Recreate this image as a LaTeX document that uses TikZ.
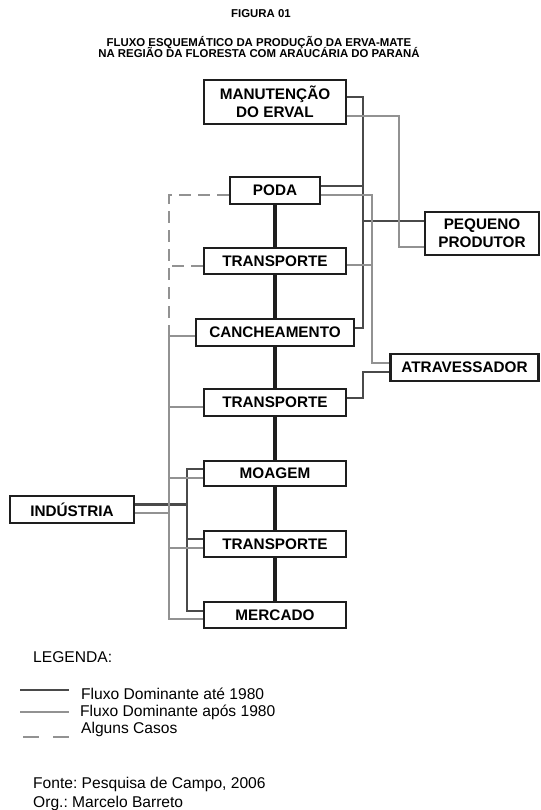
\documentclass[tikz,border=0pt]{standalone}
\usepackage{fontspec}
\setmainfont{Liberation Sans}
\frenchspacing
\definecolor{antigo}{HTML}{4A4A4A}
\definecolor{recente}{HTML}{929292}
\definecolor{eixo}{HTML}{1E1E1E}

\begin{document}
\begin{tikzpicture}[x=1pt, y=-1pt,
  etapa/.style={draw=eixo, line width=2.1pt, inner sep=0pt, align=center, minimum height=26pt,
    font=\fontsize{15.3}{18}\selectfont\bfseries},
  titulo/.style={inner sep=0pt, anchor=base, font=\fontsize{11.4}{12}\selectfont\bfseries},
  leg/.style={inner sep=0pt, anchor=base west, font=\fontsize{15.6}{18}\selectfont},
  cadeia/.style={eixo, line width=3.4pt},
  antes/.style={antigo, line width=2.8pt},
  apos/.style={recente, line width=2.8pt},
  alguns/.style={recente, line width=2.8pt, dash pattern=on 12pt off 7pt}]
\useasboundingbox (0,0) rectangle (540,810);
% titulo
\node[titulo] (fig) at (261,18) {FIGURA 01};
\node[titulo] (tit1) at (259,47) {FLUXO ESQUEMÁTICO DA PRODUÇÃO DA ERVA-MATE};
\node[titulo] (tit2) at (259,58) {NA REGIÃO DA FLORESTA COM ARAUCÁRIA DO PARANÁ};
% etapas da cadeia
\node[etapa, minimum width=142pt, minimum height=44pt] (manut) at (275,102) {MANUTENÇÃO\\DO ERVAL};
\node[etapa, minimum width=90pt, minimum height=27pt] (poda) at (275,190.5) {PODA};
\node[etapa, minimum width=142pt] (transp1) at (275,261) {TRANSPORTE};
\node[etapa, minimum width=158pt, minimum height=27pt] (canch) at (275,332.5) {CANCHEAMENTO};
\node[etapa, minimum width=142pt, minimum height=27pt] (transp2) at (275,402.5) {TRANSPORTE};
\node[etapa, minimum width=142pt, minimum height=25pt] (moagem) at (275,473.5) {MOAGEM};
\node[etapa, minimum width=142pt] (transp3) at (275,544) {TRANSPORTE};
\node[etapa, minimum width=142pt] (mercado) at (275,615) {MERCADO};
% agentes
\node[etapa, minimum width=114pt, minimum height=43pt] (produtor) at (482,233.5) {PEQUENO\\PRODUTOR};
\node[etapa, minimum width=148pt, minimum height=27pt] (atrav) at (464.5,367.5) {ATRAVESSADOR};
\node[etapa, minimum width=124pt, minimum height=27pt] (industria) at (72,509.5) {INDÚSTRIA};
% eixo central
\draw[cadeia] (poda) -- (transp1) -- (canch) -- (transp2) -- (moagem) -- (transp3) -- (mercado);
% fluxo dominante ate 1980
\coordinate (dkA) at (363,328);
\coordinate (dkB) at (363,398);
\coordinate (dkC) at (187,611);
\draw[antes] ([yshift=5pt]manut.east) -| (dkA) -- ([yshift=4.5pt]canch.east);
\draw[antes] ([yshift=4.5pt]poda.east) -| (dkA);
\draw[antes] ([yshift=12.5pt]produtor.west) -| (dkA);
\draw[antes] ([yshift=-4.5pt]atrav.west) -| (dkB) -- ([yshift=4.5pt]transp2.east);
\draw[antes] ([yshift=4.5pt]moagem.west) -| (dkC) -- ([yshift=4pt]mercado.west);
\draw[antes] ([yshift=5pt]transp3.west) -| (dkC);
\draw[antes] ([yshift=5pt]industria.east) -| (dkC);
% fluxo dominante apos 1980
\coordinate (ltA) at (399,247);
\coordinate (ltB) at (372,363);
\coordinate (ltC) at (169,619);
\draw[apos] ([yshift=-14pt]manut.east) -| (ltA) -- ([yshift=-13.5pt]produtor.west);
\draw[apos] ([yshift=-4.5pt]poda.east) -| (ltB) -- ([yshift=4.5pt]atrav.west);
\draw[apos] ([yshift=-4pt]transp1.east) -| (ltB);
\draw[apos] ([yshift=-3.5pt]canch.west) -| (ltC) -- ([yshift=-4pt]mercado.west);
\draw[apos] ([yshift=-4.5pt]transp2.west) -| (ltC);
\draw[apos] ([yshift=-4.5pt]moagem.west) -| (ltC);
\draw[apos] ([yshift=-4pt]transp3.west) -| (ltC);
\draw[apos] ([yshift=-3.5pt]industria.east) -| (ltC);
% alguns casos
\coordinate (dsA) at (169,336);
\draw[alguns] ([yshift=-4.5pt]poda.west) -| (dsA);
\draw[alguns] ([yshift=-5pt]transp1.west) -- ++(-35,0);
% legenda
\node[leg] (legenda) at (33,662) {LEGENDA:};
\node[leg] (l1) at (81,699) {Fluxo Dominante até 1980};
\node[leg] (l2) at (80,716) {Fluxo Dominante após 1980};
\node[leg] (l3) at (81,733) {Alguns Casos};
\draw[antes] (20,690) -- (69,690);
\draw[apos] (20,712) -- (69,712);
\draw[alguns, dash pattern=on 16pt off 14pt] (23,737) -- (69,737);
\node[leg] (fonte) at (33,788) {Fonte: Pesquisa de Campo, 2006};
\node[leg] (org) at (33,807) {Org.: Marcelo Barreto};
\end{tikzpicture}
\end{document}
